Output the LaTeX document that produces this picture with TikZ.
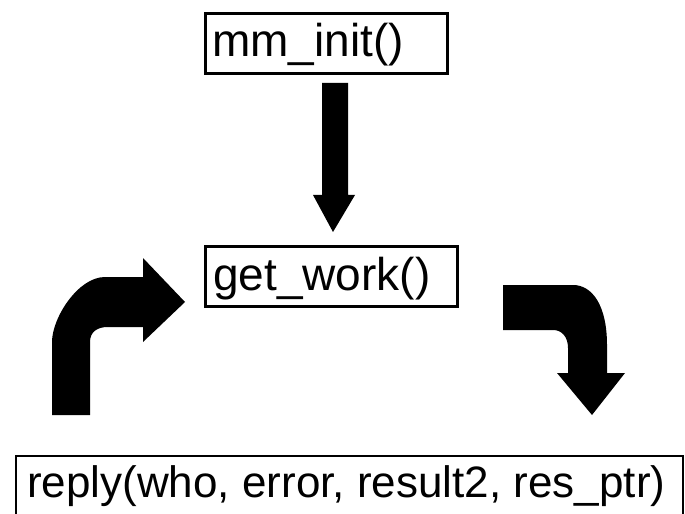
\documentclass[tikz,border=0pt]{standalone}
\usepackage{fontspec}
\setmainfont{Liberation Sans}
\begin{document}
\begin{tikzpicture}[x=1bp,y=-1bp,
  framebox/.style={draw=black, line width=3bp, inner sep=0pt, fill=white},
  calltext/.style={inner sep=0pt, anchor=base west,
    font=\fontsize{46bp}{54bp}\selectfont},
  calltextsmall/.style={calltext, font=\fontsize{44bp}{52bp}\selectfont},
  blockarrow/.style={fill=black, draw=none}]

% page and clipping region (the reply box runs off the bottom)
\fill[white] (0,0) rectangle (685,514);
\clip (0,0) rectangle (685,514);

% function boxes
\node[framebox, minimum width=242bp, minimum height=60bp] (initbox) at (326.5,43.5) {};
\node[calltext] (inittext) at (212,57) {mm\_init()};

\node[framebox, minimum width=252bp, minimum height=60bp] (workbox) at (331.5,276.5) {};
\node[calltext] (worktext) at (213,290) {get\_work()};

\node[framebox, line width=2.6bp, minimum width=667bp, minimum height=90bp] (replybox) at (349.5,501) {};
\node[calltextsmall] (replytext) at (27,497) {reply(who, error, result2, res\_ptr)};

% straight block arrow: mm_init() -> get_work()
\fill[blockarrow] (322,83) -- (348,83) -- (348,195) -- (355,195) -- (333,232)
  -- (313,195) -- (322,195) -- cycle;

% bent block arrow: reply() back up to get_work()
\fill[blockarrow] (52,415) -- (52,342) .. controls (52,318) and (78,277) .. (105,277)
  -- (143,277) -- (143,258) -- (185,302) -- (143,342) -- (143,327) -- (108,327)
  .. controls (97,327) and (90,332) .. (90,342) -- (90,415) -- cycle;

% bent block arrow: get_work() down to reply()
\fill[blockarrow] (503,285) -- (573,285) .. controls (592,285) and (607,305) .. (607,345)
  -- (607,373) -- (625,373) -- (592,415) -- (557,373) -- (568,373) -- (568,348)
  .. controls (568,337) and (562,330) .. (553,330) -- (503,330) -- cycle;

\end{tikzpicture}
\end{document}
